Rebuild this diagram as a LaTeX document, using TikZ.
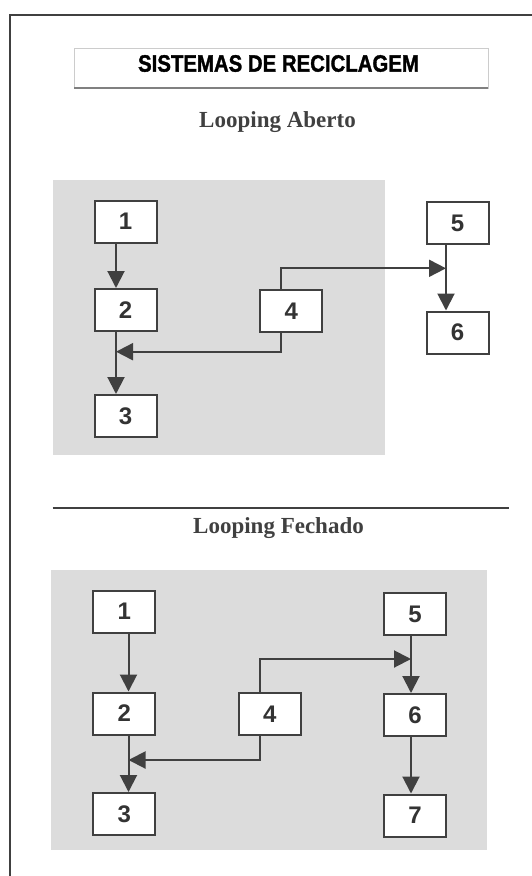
\documentclass[tikz,border=0pt]{standalone}
\usepackage{fontspec}
\usepackage{graphicx}
\usetikzlibrary{arrows.meta}
\newfontfamily\headfont{Liberation Sans}
\newfontfamily\titlefont{Liberation Sans Bold}[FakeBold=1.5]
\newfontfamily\loopfont{Liberation Serif}
\definecolor{scangray}{RGB}{220,220,220}
\definecolor{inkgray}{RGB}{64,64,64}

\begin{document}
\begin{tikzpicture}[x=1pt, y=-1pt,
    numbox/.style={draw=inkgray, line width=2pt, fill=white, minimum width=62pt,
      minimum height=42pt, inner sep=0pt, text=black!80,
      font=\headfont\bfseries\fontsize{24}{24}\selectfont},
    flow/.style={draw=inkgray, line width=2pt, -{Triangle[length=17pt,width=17pt]}},
    looptitle/.style={anchor=base, text=black!75,
      font=\loopfont\bfseries\fontsize{23}{23}\selectfont}]
  \useasboundingbox (0,0) rectangle (532,876);

  \draw[inkgray, line width=2pt] (532,15) -- (10,15) -- (10,876);

  \draw[black!20, line width=0.6pt] (74,48) rectangle (488,88);
  \draw[black!50, line width=1.5pt] (74,88) -- (488,88);
  \node (title) at (278.5,63.5) [font=\titlefont\fontsize{23.7}{23.7}\selectfont]
    {\scalebox{0.86}[1]{SISTEMAS DE RECICLAGEM}};

  \begin{scope}
    \node (aberto) at (277.5,127) [looptitle] {Looping Aberto};
    \fill[scangray] (52.5,180) rectangle (385,455);

    \node (a1) at (125.5,221.7) [numbox] {1};
    \node (a2) at (125.5,310) [numbox] {2};
    \node (a3) at (125.5,416) [numbox] {3};
    \node (a4) at (291.3,311) [numbox] {4};
    \node (a5) at (457.5,223.4) [numbox] {5};
    \node (a6) at (457.5,332.5) [numbox] {6};

    \coordinate (ajoin) at (116,351.7);
    \coordinate (bjoin) at (446,268.3);

    \draw[flow] ([xshift=-9.5pt]a1.south) -- ([xshift=-9.5pt]a2.north);
    \draw[flow] ([xshift=-9.5pt]a2.south) -- ([xshift=-9.5pt]a3.north);
    \draw[flow] ([xshift=-10.3pt]a4.south) |- (ajoin);
    \draw[flow] ([xshift=-10.3pt]a4.north) |- (bjoin);
    \draw[flow] ([xshift=-11.5pt]a5.south) -- ([xshift=-11.5pt]a6.north);
  \end{scope}

  \draw[inkgray, line width=2pt] (52.5,508) -- (509,508);

  \begin{scope}
    \node (fechado) at (278.5,533) [looptitle] {Looping Fechado};
    \fill[scangray] (51,570) rectangle (487,850);

    \node (b1) at (124.2,611.5) [numbox] {1};
    \node (b2) at (124.2,713.5) [numbox] {2};
    \node (b3) at (124.2,814) [numbox] {3};
    \node (b4) at (269.8,714) [numbox] {4};
    \node (b5) at (415,614) [numbox] {5};
    \node (b6) at (415,715) [numbox] {6};
    \node (b7) at (415,815.5) [numbox] {7};

    \coordinate (cjoin) at (128.5,760);
    \coordinate (djoin) at (411,659);

    \draw[flow] ([xshift=4.3pt]b1.south) -- ([xshift=4.3pt]b2.north);
    \draw[flow] ([xshift=4.3pt]b2.south) -- ([xshift=4.3pt]b3.north);
    \draw[flow] ([xshift=-9.8pt]b4.south) |- (cjoin);
    \draw[flow] ([xshift=-9.8pt]b4.north) |- (djoin);
    \draw[flow] ([xshift=-4pt]b5.south) -- ([xshift=-4pt]b6.north);
    \draw[flow] ([xshift=-4pt]b6.south) -- ([xshift=-4pt]b7.north);
  \end{scope}
\end{tikzpicture}
\end{document}
